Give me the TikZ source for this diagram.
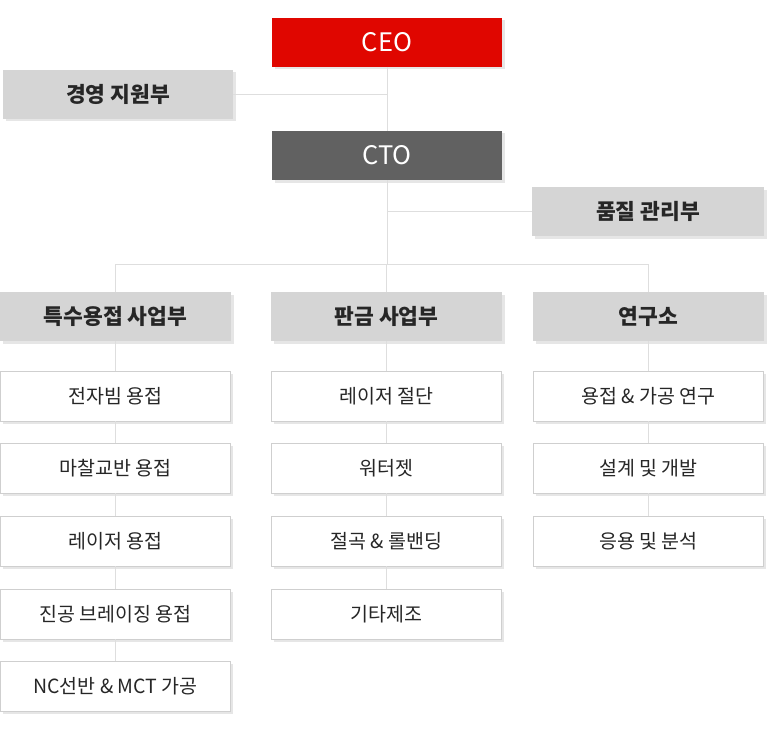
\documentclass[tikz,border=0pt]{standalone}
\usepackage{fontspec}
\setmainfont{Noto Sans CJK KR}
\usetikzlibrary{shadows}
\definecolor{ceored}{HTML}{E00600}
\definecolor{ctogray}{HTML}{616161}
\definecolor{headgray}{HTML}{D5D5D5}
\definecolor{linegray}{HTML}{DEDEDE}
\definecolor{boxborder}{HTML}{CFCFCF}
\definecolor{shadowc}{HTML}{E6E6E6}
\tikzset{
  base/.style={minimum width=230pt, minimum height=49pt, inner sep=0pt, outer sep=0pt,
    drop shadow={shadow xshift=2.5pt, shadow yshift=-2.5pt, fill=shadowc, opacity=1}},
  topbox/.style={base, text=white, font=\fontsize{25.5}{28}\selectfont},
  headbox/.style={base, fill=headgray, text=black!85, font=\fontsize{21.5}{24}\selectfont\bfseries},
  subbox/.style={base, fill=white, draw=boxborder, line width=1pt, minimum height=50pt, minimum width=230pt, text=black!85, font=\fontsize{19.5}{22}\selectfont},
  conn/.style={draw=linegray, line width=1pt}
}
\begin{document}
\begin{tikzpicture}[x=1pt,y=-1pt]
\useasboundingbox (0,0) rectangle (768,741);
% top
\node[topbox, fill=ceored] (ceo) at (387,42.5) {CEO};
\node[headbox] (mgmt) at (118,94.5) {경영 지원부};
\node[topbox, fill=ctogray] (cto) at (387,155.5) {CTO};
\node[headbox, minimum width=232pt] (qa) at (648,211.5) {품질 관리부};
% divisions
\node[headbox, minimum width=231pt] (d1) at (115.5,316.5) {특수용접 사업부};
\node[headbox, minimum width=231pt] (d2) at (386.5,316.5) {판금 사업부};
\node[headbox, minimum width=231pt] (d3) at (648.5,316.5) {연구소};
% column 1
\node[subbox] (a1) at (115.5,396) {전자빔 용접};
\node[subbox] (a2) at (115.5,468) {마찰교반 용접};
\node[subbox] (a3) at (115.5,541) {레이저 용접};
\node[subbox] (a4) at (115.5,614) {진공 브레이징 용접};
\node[subbox] (a5) at (115.5,686) {NC선반 \& MCT 가공};
% column 2
\node[subbox] (b1) at (386.5,396) {레이저 절단};
\node[subbox] (b2) at (386.5,468) {워터젯};
\node[subbox] (b3) at (386.5,541) {절곡 \& 롤밴딩};
\node[subbox] (b4) at (386.5,614) {기타제조};
% column 3
\node[subbox] (c1) at (648.5,396) {용접 \& 가공 연구};
\node[subbox] (c2) at (648.5,468) {설계 및 개발};
\node[subbox] (c3) at (648.5,541) {응용 및 분석};
% connectors
\coordinate (bus) at (387,264);
\draw[conn] (ceo.south) -- (cto.north);
\draw[conn] (mgmt.east) -- (ceo.south |- mgmt.east);
\draw[conn] (cto.south) -- (bus);
\draw[conn] (cto.south |- qa.west) -- (qa.west);
\draw[conn] (d1.north) -- (d1.north |- bus) -- (d3.north |- bus) -- (d3.north);
\draw[conn] (d2.north |- bus) -- (d2.north);
\draw[conn] (d1) -- (a1) -- (a2) -- (a3) -- (a4) -- (a5);
\draw[conn] (d2) -- (b1) -- (b2) -- (b3) -- (b4);
\draw[conn] (d3) -- (c1) -- (c2) -- (c3);
\end{tikzpicture}
\end{document}
